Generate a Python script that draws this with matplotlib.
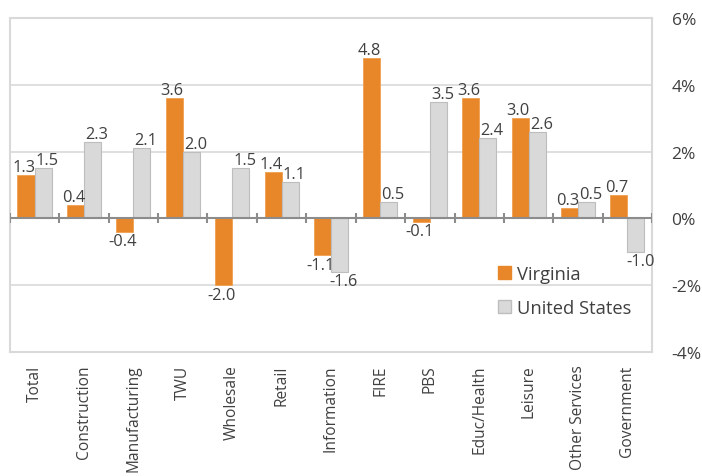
import matplotlib
matplotlib.use("Agg")
import matplotlib.pyplot as plt
import numpy as np
from matplotlib.patches import Patch

categories = ["Total", "Construction", "Manufacturing", "TWU", "Wholesale", "Retail",
              "Information", "FIRE", "PBS", "Educ/Health", "Leisure",
              "Other Services", "Government"]
virginia = [1.3, 0.4, -0.4, 3.6, -2.0, 1.4, -1.1, 4.8, -0.1, 3.6, 3.0, 0.3, 0.7]
united_states = [1.5, 2.3, 2.1, 2.0, 1.5, 1.1, -1.6, 0.5, 3.5, 2.4, 2.6, 0.5, -1.0]
y_ticks = [-4, -2, 0, 2, 4, 6]

plt.rcParams["font.family"] = ["Open Sans", "DejaVu Sans"]
TEXT = "#404040"
ORANGE = "#E8862A"
GREY = "#D9D9D9"
GREY_EDGE = "#BDBDBD"

fig = plt.figure(figsize=(7.02, 4.77), dpi=100)
ax = fig.add_axes([0.014, 0.26, 0.915, 0.70])

x = np.arange(len(categories))
w = 0.345
b1 = ax.bar(x - w / 2, virginia, w, color=ORANGE, edgecolor="#F0A050", linewidth=0.6, zorder=3)
b2 = ax.bar(x + w / 2, united_states, w, color=GREY, edgecolor=GREY_EDGE, linewidth=0.8, zorder=3)

def label(bars, vals, dx):
    for rect, v in zip(bars, vals):
        cx = rect.get_x() + rect.get_width() / 2
        if v >= 0:
            ax.annotate(f"{v:.1f}", (cx, v), xytext=(dx, 0), textcoords="offset points",
                        ha="center", va="bottom", fontsize=11.8, color=TEXT)
        else:
            ax.annotate(f"{v:.1f}", (cx, v), xytext=(dx, -1), textcoords="offset points",
                        ha="center", va="top", fontsize=11.8, color=TEXT)

label(b1, virginia, -1.5)
label(b2, united_states, 3.0)

ax.set_xlim(-0.5, len(categories) - 0.5)
ax.set_ylim(-4, 6)

# gridlines and frame
for yv in y_ticks:
    if -4 < yv < 6 and yv != 0:
        ax.axhline(yv, color="#D9D9D9", linewidth=1.2, zorder=1)
for s in ax.spines.values():
    s.set_color("#D9D9D9")
    s.set_linewidth(1.5)

# zero axis with category separator ticks
ax.axhline(0, color="#8C8C8C", linewidth=1.5, zorder=4)
ax.vlines(np.arange(len(categories) + 1) - 0.5, -0.15, 0.15, color="#8C8C8C",
          linewidth=1.5, zorder=4)

ax.yaxis.tick_right()
ax.set_yticks(y_ticks)
ax.set_yticklabels([f"{v}%" for v in y_ticks], fontsize=12.5, color=TEXT)
ax.tick_params(axis="y", length=0, pad=14)

ax.set_xticks(x)
ax.set_xticklabels(categories, rotation=90, fontsize=11.2, color=TEXT, va="top")
ax.tick_params(axis="x", length=0, pad=9)

handles = [Patch(facecolor=ORANGE, edgecolor=ORANGE), Patch(facecolor=GREY, edgecolor=GREY_EDGE)]
ax.legend(handles, ["Virginia", "United States"], loc="upper left",
          bbox_to_anchor=(0.735, 0.31), frameon=False, fontsize=13.2,
          handlelength=0.7, handleheight=0.7, handletextpad=0.3, labelspacing=0.85,
          labelcolor=TEXT)

fig.savefig("out.png", dpi=100)
